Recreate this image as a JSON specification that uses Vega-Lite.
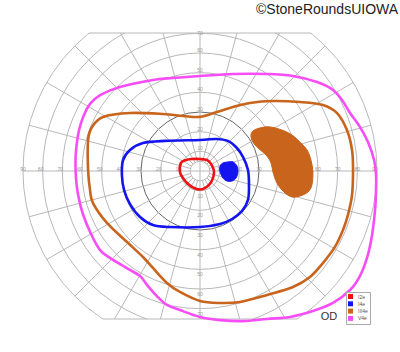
{
  "$schema": "https://vega.github.io/schema/vega-lite/v6.json",
  "width": 356,
  "height": 286,
  "autosize": "none",
  "padding": {"left": 22, "top": 33, "right": 22, "bottom": 33},
  "background": "white",
  "config": {
    "view": {"stroke": null},
    "legend": {
      "orient": "none",
      "legendX": 324,
      "legendY": 259,
      "padding": 2,
      "strokeColor": "#aaaaaa",
      "fillColor": "white",
      "symbolType": "square",
      "symbolSize": 25,
      "symbolStrokeWidth": 0,
      "labelFontSize": 5,
      "labelFont": "Liberation Sans",
      "labelColor": "#555555",
      "labelOffset": 5,
      "rowPadding": 1.3
    }
  },
  "datasets": {
    "rings": [{"r": 5}, {"r": 10}, {"r": 20}, {"r": 30}, {"r": 40}, {"r": 50}, {"r": 60}, {"r": 70}, {"r": 80}, {"r": 90}],
    "spokes": [
      {"x": -90, "y": 0, "x2": 90, "y2": 0}, {"x": 0, "y": -90, "x2": 0, "y2": 90},
      {"x": 4.83, "y": 1.29, "x2": 86.93, "y2": 23.29}, {"x": 4.33, "y": 2.5, "x2": 77.94, "y2": 45}, {"x": 3.54, "y": 3.54, "x2": 63.64, "y2": 63.64}, {"x": 2.5, "y": 4.33, "x2": 45, "y2": 77.94}, {"x": 1.29, "y": 4.83, "x2": 23.29, "y2": 86.93},
      {"x": -4.83, "y": 1.29, "x2": -86.93, "y2": 23.29}, {"x": -4.33, "y": 2.5, "x2": -77.94, "y2": 45}, {"x": -3.54, "y": 3.54, "x2": -63.64, "y2": 63.64}, {"x": -2.5, "y": 4.33, "x2": -45, "y2": 77.94}, {"x": -1.29, "y": 4.83, "x2": -23.29, "y2": 86.93},
      {"x": -4.83, "y": -1.29, "x2": -86.93, "y2": -23.29}, {"x": -4.33, "y": -2.5, "x2": -77.94, "y2": -45}, {"x": -3.54, "y": -3.54, "x2": -63.64, "y2": -63.64}, {"x": -2.5, "y": -4.33, "x2": -45, "y2": -77.94}, {"x": -1.29, "y": -4.83, "x2": -23.29, "y2": -86.93},
      {"x": 4.83, "y": -1.29, "x2": 86.93, "y2": -23.29}, {"x": 4.33, "y": -2.5, "x2": 77.94, "y2": -45}, {"x": 3.54, "y": -3.54, "x2": 63.64, "y2": -63.64}, {"x": 2.5, "y": -4.33, "x2": 45, "y2": -77.94}, {"x": 1.29, "y": -4.83, "x2": 23.29, "y2": -86.93}
    ],
    "chords": [
      {"x": -56.4, "y": 70.16, "x2": 56.4, "y2": 70.16},
      {"x": -49.4, "y": -75.24, "x2": 49.4, "y2": -75.24}
    ],
    "labels": [
      {"t": "10", "x": -10, "y": 0, "s": "L"}, {"t": "20", "x": -20, "y": 0, "s": "L"}, {"t": "30", "x": -30, "y": 0, "s": "L"}, {"t": "40", "x": -40, "y": 0, "s": "L"}, {"t": "50", "x": -50, "y": 0, "s": "L"}, {"t": "60", "x": -60, "y": 0, "s": "L"}, {"t": "70", "x": -70, "y": 0, "s": "L"}, {"t": "80", "x": -80, "y": 0, "s": "L"}, {"t": "90", "x": -89, "y": 0, "s": "L"},
      {"t": "10", "x": 10, "y": 0, "s": "R"}, {"t": "20", "x": 20, "y": 0, "s": "R"}, {"t": "30", "x": 30, "y": 0, "s": "R"}, {"t": "40", "x": 40, "y": 0, "s": "R"}, {"t": "50", "x": 50, "y": 0, "s": "R"}, {"t": "60", "x": 60, "y": 0, "s": "R"}, {"t": "70", "x": 70, "y": 0, "s": "R"}, {"t": "80", "x": 80, "y": 0, "s": "R"}, {"t": "90", "x": 89, "y": 0, "s": "R"},
      {"t": "10", "x": 0, "y": 10, "s": "T"}, {"t": "20", "x": 0, "y": 20, "s": "T"}, {"t": "30", "x": 0, "y": 30, "s": "T"}, {"t": "40", "x": 0, "y": 40, "s": "T"}, {"t": "50", "x": 0, "y": 50, "s": "T"}, {"t": "60", "x": 0, "y": 60, "s": "T"}, {"t": "70", "x": 0, "y": 68.5, "s": "T"},
      {"t": "10", "x": 0, "y": -10, "s": "B"}, {"t": "20", "x": 0, "y": -20, "s": "B"}, {"t": "30", "x": 0, "y": -30, "s": "B"}, {"t": "40", "x": 0, "y": -40, "s": "B"}, {"t": "50", "x": 0, "y": -50, "s": "B"}, {"t": "60", "x": 0, "y": -60, "s": "B"}, {"t": "70", "x": 0, "y": -70, "s": "B"}
    ],
    "iso": [
      {"iso": "V4e", "i": 1, "x": 0, "y": 48.3}, {"iso": "V4e", "i": 2, "x": 16.8, "y": 49.3}, {"iso": "V4e", "i": 3, "x": 34.1, "y": 49.3}, {"iso": "V4e", "i": 4, "x": 47.3, "y": 48.3}, {"iso": "V4e", "i": 5, "x": 59.5, "y": 45.2}, {"iso": "V4e", "i": 6, "x": 67.6, "y": 41.2}, {"iso": "V4e", "i": 7, "x": 72.2, "y": 36.1}, {"iso": "V4e", "i": 8, "x": 76.3, "y": 29.5}, {"iso": "V4e", "i": 9, "x": 81.3, "y": 22.4}, {"iso": "V4e", "i": 10, "x": 85.4, "y": 14.7}, {"iso": "V4e", "i": 11, "x": 88.5, "y": 5.6}, {"iso": "V4e", "i": 12, "x": 89.5, "y": -2.0}, {"iso": "V4e", "i": 13, "x": 89.5, "y": -9.7}, {"iso": "V4e", "i": 14, "x": 89.0, "y": -19.8}, {"iso": "V4e", "i": 15, "x": 87.4, "y": -33.0}, {"iso": "V4e", "i": 16, "x": 84.9, "y": -44.2}, {"iso": "V4e", "i": 17, "x": 81.3, "y": -53.4}, {"iso": "V4e", "i": 18, "x": 76.3, "y": -60.5}, {"iso": "V4e", "i": 19, "x": 67.6, "y": -67.1}, {"iso": "V4e", "i": 20, "x": 57.4, "y": -71.2}, {"iso": "V4e", "i": 21, "x": 45.8, "y": -74.2}, {"iso": "V4e", "i": 22, "x": 34.1, "y": -75.2}, {"iso": "V4e", "i": 23, "x": 21.9, "y": -76.3}, {"iso": "V4e", "i": 24, "x": 10.2, "y": -75.8}, {"iso": "V4e", "i": 25, "x": 0, "y": -74.2}, {"iso": "V4e", "i": 26, "x": -10.2, "y": -70.7}, {"iso": "V4e", "i": 27, "x": -16.8, "y": -68.1}, {"iso": "V4e", "i": 28, "x": -21.9, "y": -63.6}, {"iso": "V4e", "i": 29, "x": -26.9, "y": -58.0}, {"iso": "V4e", "i": 30, "x": -30.5, "y": -53.4}, {"iso": "V4e", "i": 31, "x": -37.0, "y": -49.5}, {"iso": "V4e", "i": 32, "x": -45.8, "y": -44.2}, {"iso": "V4e", "i": 33, "x": -50.8, "y": -40.2}, {"iso": "V4e", "i": 34, "x": -55.4, "y": -32.0}, {"iso": "V4e", "i": 35, "x": -59.5, "y": -22.0}, {"iso": "V4e", "i": 36, "x": -62.0, "y": -12.0}, {"iso": "V4e", "i": 37, "x": -63.0, "y": -4.0}, {"iso": "V4e", "i": 38, "x": -63.3, "y": 3.0}, {"iso": "V4e", "i": 39, "x": -63.0, "y": 10.7}, {"iso": "V4e", "i": 40, "x": -61.5, "y": 20.8}, {"iso": "V4e", "i": 41, "x": -59.0, "y": 28.5}, {"iso": "V4e", "i": 42, "x": -55.9, "y": 34.1}, {"iso": "V4e", "i": 43, "x": -50.8, "y": 38.6}, {"iso": "V4e", "i": 44, "x": -40.7, "y": 42.7}, {"iso": "V4e", "i": 45, "x": -23.9, "y": 46.3}, {"iso": "V4e", "i": 46, "x": -13.7, "y": 47.3},
      {"iso": "III4e", "i": 1, "x": 0, "y": 27.5}, {"iso": "III4e", "i": 2, "x": 8.6, "y": 30.0}, {"iso": "III4e", "i": 3, "x": 16.8, "y": 32.5}, {"iso": "III4e", "i": 4, "x": 25.4, "y": 34.6}, {"iso": "III4e", "i": 5, "x": 37.1, "y": 35.6}, {"iso": "III4e", "i": 6, "x": 50.8, "y": 35.1}, {"iso": "III4e", "i": 7, "x": 62.5, "y": 33.6}, {"iso": "III4e", "i": 8, "x": 69.6, "y": 29.5}, {"iso": "III4e", "i": 9, "x": 74.7, "y": 20.8}, {"iso": "III4e", "i": 10, "x": 77.3, "y": 10.7}, {"iso": "III4e", "i": 11, "x": 77.8, "y": 0.5}, {"iso": "III4e", "i": 12, "x": 77.3, "y": -12.2}, {"iso": "III4e", "i": 13, "x": 75.2, "y": -22.4}, {"iso": "III4e", "i": 14, "x": 72.7, "y": -30.0}, {"iso": "III4e", "i": 15, "x": 68.6, "y": -38.6}, {"iso": "III4e", "i": 16, "x": 62.5, "y": -46.8}, {"iso": "III4e", "i": 17, "x": 55.9, "y": -53.9}, {"iso": "III4e", "i": 18, "x": 47.3, "y": -59.0}, {"iso": "III4e", "i": 19, "x": 34.1, "y": -63.0}, {"iso": "III4e", "i": 20, "x": 20.3, "y": -66.6}, {"iso": "III4e", "i": 21, "x": 10.2, "y": -67.1}, {"iso": "III4e", "i": 22, "x": 0, "y": -66.1}, {"iso": "III4e", "i": 23, "x": -10.2, "y": -61.5}, {"iso": "III4e", "i": 24, "x": -16.8, "y": -56.9}, {"iso": "III4e", "i": 25, "x": -23.9, "y": -49.3}, {"iso": "III4e", "i": 26, "x": -29.0, "y": -43.7}, {"iso": "III4e", "i": 27, "x": -37.1, "y": -36.1}, {"iso": "III4e", "i": 28, "x": -47.3, "y": -26.4}, {"iso": "III4e", "i": 29, "x": -54.4, "y": -16.3}, {"iso": "III4e", "i": 30, "x": -55.9, "y": -9.7}, {"iso": "III4e", "i": 31, "x": -56.9, "y": 0.5}, {"iso": "III4e", "i": 32, "x": -56.9, "y": 15.8}, {"iso": "III4e", "i": 33, "x": -54.9, "y": 22.4}, {"iso": "III4e", "i": 34, "x": -49.3, "y": 27.5}, {"iso": "III4e", "i": 35, "x": -35.6, "y": 29.5}, {"iso": "III4e", "i": 36, "x": -18.8, "y": 29.0}, {"iso": "III4e", "i": 37, "x": -8.6, "y": 28.0},
      {"iso": "I4e", "i": 1, "x": 0, "y": 15.8}, {"iso": "I4e", "i": 2, "x": 8.6, "y": 16.3}, {"iso": "I4e", "i": 3, "x": 14.2, "y": 15.3}, {"iso": "I4e", "i": 4, "x": 18.3, "y": 12.2}, {"iso": "I4e", "i": 5, "x": 21.9, "y": 7.1}, {"iso": "I4e", "i": 6, "x": 24.4, "y": 0.5}, {"iso": "I4e", "i": 7, "x": 24.9, "y": -7.1}, {"iso": "I4e", "i": 8, "x": 24.4, "y": -14.7}, {"iso": "I4e", "i": 9, "x": 21.4, "y": -20.3}, {"iso": "I4e", "i": 10, "x": 16.3, "y": -24.4}, {"iso": "I4e", "i": 11, "x": 10.2, "y": -26.9}, {"iso": "I4e", "i": 12, "x": 0, "y": -28.5}, {"iso": "I4e", "i": 13, "x": -15.3, "y": -28.5}, {"iso": "I4e", "i": 14, "x": -23.9, "y": -27.5}, {"iso": "I4e", "i": 15, "x": -30.5, "y": -23.4}, {"iso": "I4e", "i": 16, "x": -35.6, "y": -16.8}, {"iso": "I4e", "i": 17, "x": -38.6, "y": -9.7}, {"iso": "I4e", "i": 18, "x": -39.7, "y": -2.0}, {"iso": "I4e", "i": 19, "x": -39.1, "y": 5.6}, {"iso": "I4e", "i": 20, "x": -35.6, "y": 10.7}, {"iso": "I4e", "i": 21, "x": -29.0, "y": 14.2}, {"iso": "I4e", "i": 22, "x": -17.8, "y": 15.3},
      {"iso": "I2e", "i": 1, "x": -9.7, "y": 4.1}, {"iso": "I2e", "i": 2, "x": -7.1, "y": 5.6}, {"iso": "I2e", "i": 3, "x": -4.1, "y": 6.1}, {"iso": "I2e", "i": 4, "x": 0, "y": 6.1}, {"iso": "I2e", "i": 5, "x": 3.6, "y": 5.6}, {"iso": "I2e", "i": 6, "x": 5.6, "y": 3.6}, {"iso": "I2e", "i": 7, "x": 7.1, "y": 0}, {"iso": "I2e", "i": 8, "x": 6.6, "y": -3.6}, {"iso": "I2e", "i": 9, "x": 4.6, "y": -7.1}, {"iso": "I2e", "i": 10, "x": 1.5, "y": -9.2}, {"iso": "I2e", "i": 11, "x": -1.5, "y": -9.2}, {"iso": "I2e", "i": 12, "x": -4.1, "y": -8.1}, {"iso": "I2e", "i": 13, "x": -6.6, "y": -6.1}, {"iso": "I2e", "i": 14, "x": -8.6, "y": -3.6}, {"iso": "I2e", "i": 15, "x": -10.2, "y": -0.5}
    ],
    "blobs": [
      {"b": "III4e", "i": 1, "x": 26.9, "y": 20.3}, {"b": "III4e", "i": 2, "x": 30.5, "y": 21.9}, {"b": "III4e", "i": 3, "x": 35.6, "y": 22.4}, {"b": "III4e", "i": 4, "x": 41.7, "y": 20.8}, {"b": "III4e", "i": 5, "x": 46.8, "y": 18.3}, {"b": "III4e", "i": 6, "x": 50.8, "y": 14.7}, {"b": "III4e", "i": 7, "x": 54.4, "y": 10.7}, {"b": "III4e", "i": 8, "x": 56.4, "y": 5.6}, {"b": "III4e", "i": 9, "x": 57.4, "y": -0.5}, {"b": "III4e", "i": 10, "x": 56.9, "y": -7.1}, {"b": "III4e", "i": 11, "x": 54.9, "y": -10.7}, {"b": "III4e", "i": 12, "x": 50.8, "y": -12.7}, {"b": "III4e", "i": 13, "x": 46.8, "y": -13.2}, {"b": "III4e", "i": 14, "x": 42.7, "y": -10.7}, {"b": "III4e", "i": 15, "x": 39.1, "y": -6.1}, {"b": "III4e", "i": 16, "x": 37.1, "y": -0.5}, {"b": "III4e", "i": 17, "x": 36.1, "y": 4.1}, {"b": "III4e", "i": 18, "x": 33.6, "y": 8.1}, {"b": "III4e", "i": 19, "x": 29.5, "y": 11.7}, {"b": "III4e", "i": 20, "x": 26.9, "y": 14.7}, {"b": "III4e", "i": 21, "x": 25.9, "y": 17.8},
      {"b": "I4e", "i": 1, "x": 10.2, "y": 2.5}, {"b": "I4e", "i": 2, "x": 11.7, "y": 4.1}, {"b": "I4e", "i": 3, "x": 14.2, "y": 4.6}, {"b": "I4e", "i": 4, "x": 16.8, "y": 4.6}, {"b": "I4e", "i": 5, "x": 18.8, "y": 2.5}, {"b": "I4e", "i": 6, "x": 19.3, "y": -0.5}, {"b": "I4e", "i": 7, "x": 18.3, "y": -3.6}, {"b": "I4e", "i": 8, "x": 16.3, "y": -5.1}, {"b": "I4e", "i": 9, "x": 13.7, "y": -5.1}, {"b": "I4e", "i": 10, "x": 11.7, "y": -3.6}, {"b": "I4e", "i": 11, "x": 10.2, "y": -0.5}
    ],
    "notes": [
      {"t": "OD", "x": 65.6, "y": -74.2, "k": "od"},
      {"t": "©StoneRoundsUIOWA", "x": 100.7, "y": 79.8, "k": "copy"}
    ]
  },
  "layer": [
    {
      "data": {"name": "rings"},
      "mark": {"type": "arc", "filled": false, "fill": null, "strokeWidth": 1, "theta": 0, "theta2": 6.2832, "innerRadius": 0, "outerRadius": {"expr": "scale('x', datum.r) - scale('x', 0)"}, "clip": true},
      "encoding": {
        "x": {"datum": 0, "type": "quantitative", "scale": {"domain": [-90.5, 90.5], "nice": false, "zero": false}, "axis": null},
        "y": {"datum": 0, "type": "quantitative", "scale": {"domain": [-75.24, 70.16], "nice": false, "zero": false}, "axis": null},
        "stroke": {"condition": {"test": "datum.r == 30", "value": "#666666"}, "value": "#b8b8b8"}
      }
    },
    {
      "data": {"name": "spokes"},
      "mark": {"type": "rule", "stroke": "#b8b8b8", "strokeWidth": 1, "clip": true},
      "encoding": {
        "x": {"field": "x", "type": "quantitative", "scale": {"domain": [-90.5, 90.5], "nice": false, "zero": false}, "axis": null},
        "y": {"field": "y", "type": "quantitative", "scale": {"domain": [-75.24, 70.16], "nice": false, "zero": false}, "axis": null},
        "x2": {"field": "x2"},
        "y2": {"field": "y2"}
      }
    },
    {
      "data": {"name": "chords"},
      "mark": {"type": "rule", "stroke": "#b8b8b8", "strokeWidth": 1},
      "encoding": {
        "x": {"field": "x", "type": "quantitative", "axis": null},
        "y": {"field": "y", "type": "quantitative", "axis": null},
        "x2": {"field": "x2"},
        "y2": {"field": "y2"}
      }
    },
    {
      "data": {"name": "labels"},
      "transform": [{"filter": "datum.s == 'L'"}],
      "mark": {"type": "text", "fontSize": 5, "font": "Liberation Sans", "fill": "#999999", "dx": -2, "dy": -2, "baseline": "middle"},
      "encoding": {"x": {"field": "x", "type": "quantitative"}, "y": {"field": "y", "type": "quantitative"}, "text": {"field": "t"}}
    },
    {
      "data": {"name": "labels"},
      "transform": [{"filter": "datum.s == 'R'"}],
      "mark": {"type": "text", "fontSize": 5, "font": "Liberation Sans", "fill": "#999999", "dx": 0, "dy": -2, "baseline": "middle"},
      "encoding": {"x": {"field": "x", "type": "quantitative"}, "y": {"field": "y", "type": "quantitative"}, "text": {"field": "t"}}
    },
    {
      "data": {"name": "labels"},
      "transform": [{"filter": "datum.s == 'T'"}],
      "mark": {"type": "text", "fontSize": 5, "font": "Liberation Sans", "fill": "#999999", "dy": -3, "baseline": "middle"},
      "encoding": {"x": {"field": "x", "type": "quantitative"}, "y": {"field": "y", "type": "quantitative"}, "text": {"field": "t"}}
    },
    {
      "data": {"name": "labels"},
      "transform": [{"filter": "datum.s == 'B'"}],
      "mark": {"type": "text", "fontSize": 5, "font": "Liberation Sans", "fill": "#999999", "dy": 5, "baseline": "middle"},
      "encoding": {"x": {"field": "x", "type": "quantitative"}, "y": {"field": "y", "type": "quantitative"}, "text": {"field": "t"}}
    },
    {
      "data": {"name": "blobs"},
      "transform": [{"filter": "datum.b == 'III4e'"}],
      "mark": {"type": "line", "interpolate": "cardinal-closed", "stroke": "#c8641c", "fill": "#c8641c", "strokeWidth": 1},
      "encoding": {"x": {"field": "x", "type": "quantitative"}, "y": {"field": "y", "type": "quantitative"}, "order": {"field": "i"}}
    },
    {
      "data": {"name": "blobs"},
      "transform": [{"filter": "datum.b == 'I4e'"}],
      "mark": {"type": "line", "interpolate": "cardinal-closed", "stroke": "#1414f0", "fill": "#1414f0", "strokeWidth": 1},
      "encoding": {"x": {"field": "x", "type": "quantitative"}, "y": {"field": "y", "type": "quantitative"}, "order": {"field": "i"}}
    },
    {
      "data": {"name": "iso"},
      "mark": {"type": "line", "interpolate": "cardinal-closed", "strokeWidth": 2.6},
      "encoding": {
        "x": {"field": "x", "type": "quantitative"},
        "y": {"field": "y", "type": "quantitative"},
        "order": {"field": "i"},
        "color": {
          "field": "iso",
          "type": "nominal",
          "scale": {"domain": ["I2e", "I4e", "III4e", "V4e"], "range": ["#ee1111", "#1414f0", "#c8641c", "#f74df7"]},
          "legend": {
            "title": null,
            "encode": {"symbols": {"update": {"fill": {"scale": "color", "field": "value"}, "fillOpacity": {"value": 1}, "strokeWidth": {"value": 0}}}}
          }
        }
      }
    },
    {
      "data": {"name": "notes"},
      "transform": [{"filter": "datum.k == 'od'"}],
      "mark": {"type": "text", "fontSize": 11, "font": "Liberation Sans", "fill": "#333333", "align": "center", "baseline": "middle"},
      "encoding": {"x": {"field": "x", "type": "quantitative"}, "y": {"field": "y", "type": "quantitative"}, "text": {"field": "t"}}
    },
    {
      "data": {"name": "notes"},
      "transform": [{"filter": "datum.k == 'copy'"}],
      "mark": {"type": "text", "fontSize": 14, "font": "Liberation Sans", "fill": "#222222", "align": "right", "baseline": "alphabetic"},
      "encoding": {"x": {"field": "x", "type": "quantitative"}, "y": {"field": "y", "type": "quantitative"}, "text": {"field": "t"}}
    }
  ]
}
